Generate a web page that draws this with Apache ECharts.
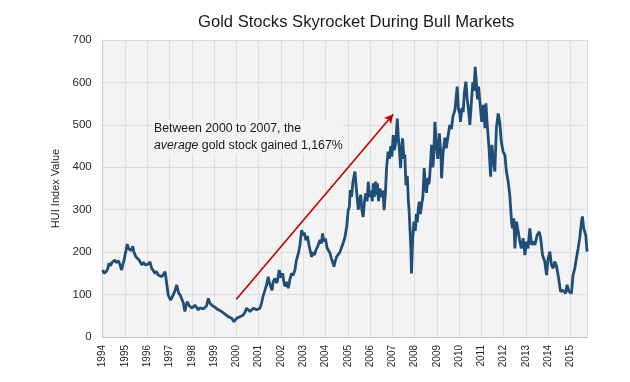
<!DOCTYPE html>
<html>
<head>
<meta charset="utf-8">
<script src="https://cdn.jsdelivr.net/npm/echarts@6/dist/echarts.min.js"></script>
<style>
html,body{margin:0;padding:0;background:#fff;}
#chart{width:630px;height:382px;}
</style>
</head>
<body>
<div id="chart"></div>
<script>
// HUI index, time as decimal year on the chart's axis
const years = [
1994.00,1994.06,1994.10,1994.17,1994.24,1994.28,1994.35,1994.42,1994.48,1994.55,1994.62,1994.69,1994.75,1994.85,1994.91,1994.96,
1995.00,1995.05,1995.10,1995.16,1995.22,1995.28,1995.35,1995.40,1995.49,1995.56,1995.64,1995.70,1995.75,1995.83,1995.90,1995.97,
1996.05,1996.12,1996.20,1996.28,1996.35,1996.41,1996.49,1996.57,1996.65,1996.73,1996.80,1996.87,1996.94,
1997.05,1997.11,1997.17,1997.24,1997.32,1997.38,1997.42,1997.49,1997.54,1997.62,1997.69,1997.75,1997.80,1997.87,1997.94,1997.99,
1998.07,1998.14,1998.21,1998.29,1998.37,1998.44,1998.51,1998.59,1998.66,1998.74,1998.81,1998.89,1998.96,
1999.04,1999.11,1999.19,1999.26,1999.34,1999.41,1999.49,1999.56,1999.63,1999.71,1999.79,1999.85,1999.89,1999.95,
2000.01,2000.08,2000.16,2000.24,2000.31,2000.38,2000.46,2000.53,2000.61,2000.68,2000.76,2000.83,2000.91,2000.98,
2001.06,2001.13,2001.19,2001.28,2001.35,2001.43,2001.48,2001.54,2001.60,2001.65,2001.73,2001.81,2001.87,2001.92,
2002.00,2002.08,2002.13,2002.18,2002.25,2002.33,2002.40,2002.48,2002.54,2002.63,2002.69,2002.78,2002.85,2002.93,2002.99,
2003.05,2003.12,2003.19,2003.27,2003.33,2003.38,2003.44,2003.50,2003.57,2003.66,2003.75,2003.81,2003.87,2003.93,
2004.00,2004.06,2004.12,2004.20,2004.26,2004.33,2004.38,2004.44,2004.51,2004.58,2004.65,2004.71,2004.79,2004.87,2004.95,
2005.02,2005.07,2005.11,2005.17,2005.23,2005.27,2005.32,2005.36,2005.40,2005.47,2005.52,2005.58,2005.63,2005.69,2005.75,2005.81,2005.87,2005.92,2005.97,
2006.04,2006.10,2006.14,2006.19,2006.24,2006.28,2006.33,2006.38,2006.44,2006.51,2006.58,2006.63,2006.69,2006.74,2006.81,2006.87,2006.93,2006.98,
2007.04,2007.09,2007.16,2007.22,2007.27,2007.32,2007.37,2007.41,2007.46,2007.52,2007.56,2007.61,2007.67,2007.72,2007.75,2007.79,2007.83,2007.86,2007.91,2007.97,
2008.03,2008.08,2008.12,2008.17,2008.21,2008.26,2008.31,2008.37,2008.43,2008.49,2008.53,2008.60,2008.64,2008.68,2008.76,2008.82,2008.86,2008.91,2008.98,
2009.04,2009.11,2009.18,2009.21,2009.27,2009.36,2009.42,2009.49,2009.58,2009.65,2009.72,2009.81,2009.91,2009.96,
2010.03,2010.06,2010.12,2010.18,2010.23,2010.30,2010.36,2010.41,2010.48,2010.55,2010.61,2010.66,2010.72,2010.77,2010.82,2010.87,2010.94,
2011.01,2011.09,2011.16,2011.20,2011.25,2011.34,2011.41,2011.47,2011.52,2011.60,2011.67,2011.75,2011.82,2011.89,2011.97,
2012.05,2012.12,2012.20,2012.27,2012.35,2012.39,2012.45,2012.50,2012.57,2012.65,2012.72,2012.79,2012.87,2012.95,
2013.02,2013.09,2013.17,2013.25,2013.32,2013.40,2013.50,2013.59,2013.65,2013.74,2013.84,2013.92,2013.99,
2014.07,2014.14,2014.22,2014.29,2014.37,2014.44,2014.55,2014.66,2014.78,2014.84,2014.93,
2015.04,2015.11,2015.19,2015.26,2015.34,2015.41,2015.49,2015.53,2015.59,2015.68,2015.74
];
const hui = [
158,150,146,155,163,174,168,176,172,181,175,180,174,158,172,181,
193,205,219,208,212,204,214,200,189,193,181,184,170,176,170,166,
172,177,162,158,150,155,146,150,142,148,154,127,99,
87,93,95,108,123,110,103,98,91,80,60,75,83,75,72,68,
72,75,70,64,69,71,66,68,73,91,80,75,72,
70,66,64,62,60,56,54,52,48,47,44,40,36,40,
44,42,48,50,52,58,68,64,60,64,68,66,64,62,
68,80,95,110,122,142,128,130,110,130,138,127,140,158,
140,150,130,119,130,115,135,150,145,158,180,197,215,252,240,
246,228,238,213,200,189,200,193,205,215,229,220,244,225,
232,212,205,198,186,175,166,180,190,186,200,210,221,235,260,
299,307,346,330,365,362,390,394,340,300,320,335,300,283,320,339,320,366,330,
345,320,362,330,366,335,362,320,350,330,345,299,340,398,437,420,450,425,
476,440,460,515,470,440,398,440,468,420,430,358,380,320,300,256,210,150,230,272,
250,290,270,305,319,290,310,330,398,350,340,375,360,380,453,400,430,507,450,
420,480,430,374,430,470,445,470,500,490,520,535,590,540,
525,507,540,530,575,602,560,540,500,555,600,580,637,600,560,590,594,
507,547,492,551,507,445,378,453,421,390,492,527,507,460,437,
429,390,366,335,272,256,280,209,272,248,225,209,233,193,
225,209,256,217,225,217,240,248,236,193,178,146,185,
201,170,162,178,166,146,107,110,103,123,107,
103,146,162,185,209,233,272,284,256,240,201
];
const arrowStart = [2000.0, 89];
const arrowEnd = [2007.04, 525];
const yTicks = [0, 100, 200, 300, 400, 500, 600, 700];
const xFirstYear = 1994, xLastYear = 2015.75;

const sans = "'Liberation Sans',Arial,sans-serif";

const chart = echarts.init(document.getElementById('chart'), null, {renderer: 'canvas'});
chart.setOption({
  animation: false,
  backgroundColor: '#ffffff',
  title: {
    text: 'Gold Stocks Skyrocket During Bull Markets',
    left: 193, top: 9,
    textStyle: {fontFamily: sans, fontSize: 16.6, fontWeight: 'normal', color: '#1a1a1a'}
  },
  grid: {
    left: 102.7, right: 42.7, top: 40, bottom: 45,
    show: true, backgroundColor: '#f3f3f3', borderWidth: 0
  },
  xAxis: {
    type: 'value', min: xFirstYear, max: xLastYear, interval: 1,
    axisLine: {show: true, onZero: false, lineStyle: {color: '#bdbdbd', type: 'dotted', width: 1}},
    axisTick: {show: false},
    splitLine: {show: true, lineStyle: {color: '#dedede', width: 1}},
    axisLabel: {
      rotate: 90, margin: 8, showMaxLabel: false,
      fontFamily: sans, fontSize: 10, color: '#262626',
      formatter: v => String(Math.round(v))
    }
  },
  yAxis: {
    type: 'value', min: yTicks[0], max: yTicks[yTicks.length - 1], interval: 100,
    name: 'HUI Index Value', nameLocation: 'middle', nameGap: 39,
    nameTextStyle: {fontFamily: sans, fontSize: 11, color: '#262626'},
    axisLine: {show: true, lineStyle: {color: '#c8c8c8', type: 'dashed', width: 1}},
    axisTick: {show: false},
    splitLine: {show: true, lineStyle: {color: '#dedede', width: 1}},
    axisLabel: {fontFamily: sans, fontSize: 11.5, color: '#262626', margin: 11}
  },
  graphic: [{
    type: 'text', left: 154, top: 120, silent: true, z: 2,
    style: {
      text: 'Between 2000 to 2007, the\n{i|average} gold stock gained 1,167%',
      fontFamily: sans, fontSize: 12.3, lineHeight: 17, fill: '#1a1a1a',
      backgroundColor: '#f3f3f3',
      rich: {i: {fontStyle: 'italic', fontFamily: sans, fontSize: 12.3, lineHeight: 17, color: '#1a1a1a'}}
    }
  }],
  series: [{
    type: 'line',
    data: years.map((y, i) => [y, hui[i]]),
    showSymbol: false,
    lineStyle: {color: '#1f4e79', width: 2.8},
    itemStyle: {color: '#1f4e79'},
    z: 3,
    markLine: {
      silent: true, animation: false,
      symbol: ['none', 'arrow'], symbolSize: [7, 9],
      label: {show: false},
      lineStyle: {color: '#c00000', width: 1.6, type: 'solid'},
      data: [[{coord: arrowStart}, {coord: arrowEnd}]]
    }
  }]
});
</script>
</body>
</html>
